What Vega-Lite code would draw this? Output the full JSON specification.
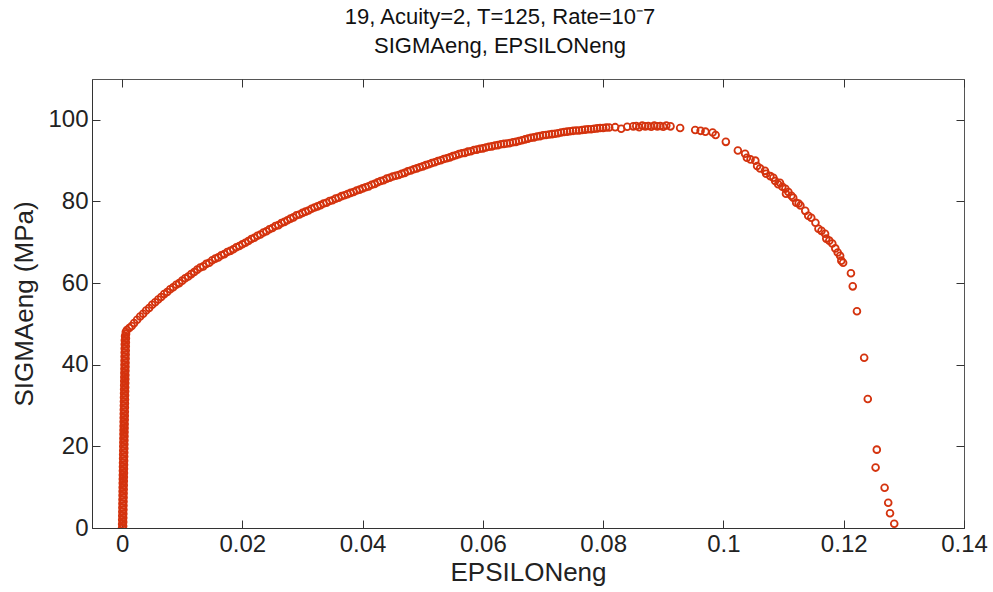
{
  "$schema": "https://vega.github.io/schema/vega-lite/v6.json",
  "autosize": {"type": "none"},
  "width": 872,
  "height": 449,
  "padding": {"left": 92, "top": 79, "right": 29, "bottom": 64},
  "background": "white",
  "title": {
    "text": ["19, Acuity=2, T=125, Rate=10⁻7", "SIGMAeng, EPSILONeng"],
    "anchor": "middle",
    "frame": "group",
    "dx": -28,
    "offset": 21,
    "fontSize": 22,
    "fontWeight": "normal",
    "font": "Liberation Sans",
    "color": "#111111",
    "lineHeight": 29
  },
  "config": {
    "font": "Liberation Sans",
    "view": {"stroke": "#555555", "strokeWidth": 1},
    "axis": {
      "grid": false,
      "domainColor": "#333333",
      "tickColor": "#333333",
      "labelColor": "#222222",
      "titleColor": "#222222",
      "labelFont": "Liberation Sans",
      "titleFont": "Liberation Sans",
      "labelFontSize": 24,
      "titleFontSize": 26,
      "titleFontWeight": "normal",
      "tickSize": -8,
      "labelPadding": 12
    }
  },
  "data": {"values": [
    {"e":0,"s":0},{"e":0.00018,"s":0.5},{"e":0.00001,"s":1},{"e":0.00019,"s":1.5},{"e":0.00002,"s":2},{"e":0.0002,"s":2.5},{"e":0.00003,"s":3},{"e":0.00021,"s":3.5},{"e":0.00004,"s":4},{"e":0.00022,"s":4.5},
    {"e":0.00005,"s":5},{"e":0.00023,"s":5.5},{"e":0.00006,"s":6},{"e":0.00024,"s":6.5},{"e":0.00007,"s":7},{"e":0.00025,"s":7.5},{"e":0.00008,"s":8},{"e":0.00026,"s":8.5},{"e":0.00009,"s":9},{"e":0.00027,"s":9.5},
    {"e":0.0001,"s":10},{"e":0.00028,"s":10.5},{"e":0.00011,"s":11},{"e":0.00029,"s":11.5},{"e":0.00012,"s":12},{"e":0.0003,"s":12.5},{"e":0.00013,"s":13},{"e":0.00031,"s":13.5},{"e":0.00014,"s":14},{"e":0.00032,"s":14.5},
    {"e":0.00015,"s":15},{"e":0.00033,"s":15.5},{"e":0.00016,"s":16},{"e":0.00034,"s":16.5},{"e":0.00017,"s":17},{"e":0.00035,"s":17.5},{"e":0.00018,"s":18},{"e":0.00036,"s":18.5},{"e":0.00019,"s":19},{"e":0.00037,"s":19.5},
    {"e":0.0002,"s":20},{"e":0.00038,"s":20.5},{"e":0.00021,"s":21},{"e":0.00039,"s":21.5},{"e":0.00022,"s":22},{"e":0.0004,"s":22.5},{"e":0.00023,"s":23},{"e":0.00041,"s":23.5},{"e":0.00024,"s":24},{"e":0.00042,"s":24.5},
    {"e":0.00025,"s":25},{"e":0.00043,"s":25.5},{"e":0.00026,"s":26},{"e":0.00044,"s":26.5},{"e":0.00027,"s":27},{"e":0.00045,"s":27.5},{"e":0.00028,"s":28},{"e":0.00046,"s":28.5},{"e":0.00029,"s":29},{"e":0.00047,"s":29.5},
    {"e":0.0003,"s":30},{"e":0.00048,"s":30.5},{"e":0.00031,"s":31},{"e":0.00049,"s":31.5},{"e":0.00032,"s":32},{"e":0.0005,"s":32.5},{"e":0.00033,"s":33},{"e":0.00051,"s":33.5},{"e":0.00034,"s":34},{"e":0.00052,"s":34.5},
    {"e":0.00035,"s":35},{"e":0.00053,"s":35.5},{"e":0.00036,"s":36},{"e":0.00054,"s":36.5},{"e":0.00037,"s":37},{"e":0.00055,"s":37.5},{"e":0.00038,"s":38},{"e":0.00056,"s":38.5},{"e":0.00039,"s":39},{"e":0.00057,"s":39.5},
    {"e":0.0004,"s":40},{"e":0.00058,"s":40.5},{"e":0.00041,"s":41},{"e":0.00059,"s":41.5},{"e":0.00042,"s":42},{"e":0.0006,"s":42.5},{"e":0.00043,"s":43},{"e":0.00061,"s":43.5},{"e":0.00044,"s":44},{"e":0.00062,"s":44.5},
    {"e":0.00045,"s":45},{"e":0.00063,"s":45.5},{"e":0.00046,"s":46},{"e":0.00064,"s":46.5},{"e":0.0005,"s":47},{"e":0.00066,"s":47.5},{"e":0.00062,"s":48},
    {"e":0.0008,"s":48.5},{"e":0.0012,"s":49.0},{"e":0.0016,"s":49.5},{"e":0.002,"s":50.2},{"e":0.0025,"s":51.0},{"e":0.003,"s":51.8},{"e":0.0035,"s":52.5},{"e":0.004,"s":53.3},{"e":0.0045,"s":53.9},{"e":0.005,"s":54.7},
    {"e":0.0055,"s":55.3},{"e":0.006,"s":56.0},{"e":0.0065,"s":56.6},{"e":0.007,"s":57.3},{"e":0.0075,"s":57.8},{"e":0.008,"s":58.5},{"e":0.0085,"s":59.0},{"e":0.009,"s":59.6},{"e":0.0095,"s":60.0},{"e":0.010,"s":60.6},
    {"e":0.0105,"s":61.2},{"e":0.011,"s":61.6},{"e":0.0115,"s":62.2},{"e":0.012,"s":62.7},{"e":0.0125,"s":63.3},{"e":0.013,"s":63.8},{"e":0.0135,"s":64.1},{"e":0.014,"s":64.7},{"e":0.0145,"s":65.0},{"e":0.015,"s":65.6},
    {"e":0.0155,"s":66.0},{"e":0.016,"s":66.3},{"e":0.0165,"s":66.8},{"e":0.017,"s":67.1},{"e":0.0175,"s":67.6},{"e":0.018,"s":67.9},{"e":0.0185,"s":68.3},{"e":0.019,"s":68.8},{"e":0.0195,"s":69.1},{"e":0.020,"s":69.5},
    {"e":0.0205,"s":69.9},{"e":0.021,"s":70.3},{"e":0.0215,"s":70.8},{"e":0.022,"s":71.1},{"e":0.0225,"s":71.6},{"e":0.023,"s":71.9},{"e":0.0235,"s":72.4},{"e":0.024,"s":72.7},{"e":0.0245,"s":73.2},{"e":0.025,"s":73.5},
    {"e":0.0255,"s":74.0},{"e":0.026,"s":74.2},{"e":0.0265,"s":74.7},{"e":0.027,"s":75.0},{"e":0.0275,"s":75.4},{"e":0.028,"s":75.8},{"e":0.0285,"s":76.1},{"e":0.029,"s":76.6},{"e":0.0295,"s":76.8},{"e":0.030,"s":77.2},
    {"e":0.0305,"s":77.5},{"e":0.031,"s":77.8},{"e":0.0315,"s":78.2},{"e":0.032,"s":78.5},{"e":0.0325,"s":78.8},{"e":0.033,"s":79.1},{"e":0.0335,"s":79.5},{"e":0.034,"s":79.7},{"e":0.0345,"s":80.1},{"e":0.035,"s":80.3},
    {"e":0.0355,"s":80.7},{"e":0.036,"s":80.9},{"e":0.0365,"s":81.3},{"e":0.037,"s":81.5},{"e":0.0375,"s":81.8},{"e":0.038,"s":82.1},{"e":0.0385,"s":82.3},{"e":0.039,"s":82.7},{"e":0.0395,"s":82.9},{"e":0.040,"s":83.2},
    {"e":0.0405,"s":83.5},{"e":0.041,"s":83.7},{"e":0.0415,"s":84.1},{"e":0.042,"s":84.3},{"e":0.0425,"s":84.7},{"e":0.043,"s":85.0},{"e":0.0435,"s":85.2},{"e":0.044,"s":85.6},{"e":0.0445,"s":85.8},{"e":0.045,"s":86.1},
    {"e":0.0455,"s":86.3},{"e":0.046,"s":86.5},{"e":0.0465,"s":86.8},{"e":0.047,"s":87.0},{"e":0.0475,"s":87.4},{"e":0.048,"s":87.6},{"e":0.0485,"s":87.9},{"e":0.049,"s":88.1},{"e":0.0495,"s":88.4},{"e":0.050,"s":88.6},
    {"e":0.0505,"s":88.9},{"e":0.051,"s":89.1},{"e":0.0515,"s":89.4},{"e":0.052,"s":89.6},{"e":0.0525,"s":89.9},{"e":0.053,"s":90.1},{"e":0.0535,"s":90.4},{"e":0.054,"s":90.6},{"e":0.0545,"s":90.8},{"e":0.055,"s":91.1},
    {"e":0.0555,"s":91.3},{"e":0.056,"s":91.6},{"e":0.0565,"s":91.8},{"e":0.057,"s":91.9},{"e":0.0575,"s":92.2},{"e":0.058,"s":92.3},{"e":0.0585,"s":92.6},{"e":0.059,"s":92.7},{"e":0.0595,"s":92.9},{"e":0.060,"s":93.0},
    {"e":0.0605,"s":93.2},{"e":0.061,"s":93.4},{"e":0.0615,"s":93.5},{"e":0.062,"s":93.7},{"e":0.0625,"s":93.8},{"e":0.063,"s":94.0},{"e":0.0635,"s":94.1},{"e":0.064,"s":94.2},{"e":0.0645,"s":94.3},{"e":0.065,"s":94.5},
    {"e":0.0655,"s":94.6},{"e":0.066,"s":94.8},{"e":0.0665,"s":95.0},{"e":0.067,"s":95.2},{"e":0.0675,"s":95.4},{"e":0.068,"s":95.6},{"e":0.0685,"s":95.7},{"e":0.069,"s":95.9},{"e":0.0695,"s":96.0},{"e":0.070,"s":96.2},
    {"e":0.0705,"s":96.3},{"e":0.071,"s":96.4},{"e":0.0715,"s":96.5},{"e":0.072,"s":96.6},{"e":0.0725,"s":96.7},{"e":0.073,"s":96.9},{"e":0.0735,"s":97.0},{"e":0.074,"s":97.1},{"e":0.0745,"s":97.2},{"e":0.075,"s":97.3},
    {"e":0.0755,"s":97.4},{"e":0.076,"s":97.4},{"e":0.0765,"s":97.5},{"e":0.077,"s":97.6},{"e":0.0775,"s":97.7},{"e":0.078,"s":97.7},{"e":0.0785,"s":97.8},{"e":0.079,"s":97.9},{"e":0.0795,"s":98.0},{"e":0.080,"s":98.0},
    {"e":0.0805,"s":98.1},{"e":0.081,"s":98.1},{"e":0.082,"s":98.2},{"e":0.083,"s":97.8},{"e":0.084,"s":98.3},{"e":0.085,"s":98.4},{"e":0.0855,"s":98.5},{"e":0.086,"s":98.2},{"e":0.0865,"s":98.6},{"e":0.087,"s":98.4},
    {"e":0.0875,"s":98.5},{"e":0.088,"s":98.3},{"e":0.0885,"s":98.6},{"e":0.089,"s":98.4},{"e":0.0895,"s":98.5},{"e":0.090,"s":98.3},{"e":0.0905,"s":98.6},{"e":0.0912,"s":98.4},
    {"e":0.0928,"s":98.0},{"e":0.0953,"s":97.5},{"e":0.0962,"s":97.3},{"e":0.097,"s":97.1},{"e":0.0982,"s":96.9},{"e":0.0987,"s":96.3},{"e":0.1004,"s":94.6},{"e":0.1024,"s":92.5},{"e":0.1036,"s":91.7},{"e":0.1039,"s":90.7},
    {"e":0.1045,"s":90.3},{"e":0.1053,"s":90.0},{"e":0.1056,"s":88.7},{"e":0.1061,"s":88.1},{"e":0.1069,"s":87.5},{"e":0.1071,"s":86.8},{"e":0.1078,"s":86.2},{"e":0.1083,"s":85.8},{"e":0.1086,"s":85.0},{"e":0.1091,"s":84.2},
    {"e":0.1094,"s":84.6},{"e":0.1098,"s":83.6},{"e":0.1103,"s":83.1},{"e":0.1108,"s":82.3},{"e":0.1104,"s":81.9},{"e":0.1113,"s":81.4},{"e":0.1116,"s":80.9},{"e":0.1121,"s":79.7},{"e":0.1125,"s":79.5},{"e":0.1128,"s":79.0},
    {"e":0.1136,"s":77.7},{"e":0.1141,"s":76.5},{"e":0.1146,"s":76.0},{"e":0.1153,"s":74.8},{"e":0.1158,"s":73.3},{"e":0.1163,"s":72.8},{"e":0.1169,"s":72.1},{"e":0.1171,"s":70.9},{"e":0.1176,"s":70.4},{"e":0.1181,"s":69.7},
    {"e":0.1186,"s":68.5},{"e":0.119,"s":67.5},{"e":0.1194,"s":66.7},{"e":0.1196,"s":65.5},{"e":0.1199,"s":65.0},{"e":0.1212,"s":62.4},{"e":0.1215,"s":59.2},{"e":0.1222,"s":53.1},{"e":0.1234,"s":41.7},{"e":0.124,"s":31.6},
    {"e":0.1255,"s":19.2},{"e":0.1253,"s":14.8},{"e":0.1268,"s":9.85},{"e":0.1274,"s":6.2},{"e":0.1277,"s":3.6},{"e":0.1284,"s":1.05}
  ]},
  "layer": [
    {
      "mark": {"type": "point", "shape": "circle", "filled": false, "size": 46, "strokeWidth": 1.8, "color": "#d4330e", "opacity": 1, "clip": true},
      "encoding": {
        "x": {"field": "e", "type": "quantitative", "title": "EPSILONeng",
              "scale": {"domain": [-0.005, 0.14], "nice": false, "zero": false},
              "axis": {"orient": "bottom", "values": [0, 0.02, 0.04, 0.06, 0.08, 0.1, 0.12, 0.14], "labelExpr": "datum.value == 0 ? '0' : format(datum.value, '.2~f')", "labelFlush": false, "labelOverlap": false, "titlePadding": 3}},
        "y": {"field": "s", "type": "quantitative", "title": "SIGMAeng (MPa)",
              "scale": {"domain": [0, 110], "nice": false},
              "axis": {"orient": "left", "values": [0, 20, 40, 60, 80, 100], "labelFlush": false, "labelOverlap": false, "titleX": -68, "titleY": 224.5, "titleAlign": "center", "titleBaseline": "middle", "titleAngle": -90}}
      }
    },
    {
      "mark": {"type": "point", "opacity": 0},
      "encoding": {
        "x": {"field": "e", "type": "quantitative",
              "scale": {"domain": [-0.005, 0.14], "nice": false, "zero": false},
              "axis": {"orient": "top", "title": null, "labels": false, "domain": false, "values": [0, 0.02, 0.04, 0.06, 0.08, 0.1, 0.12, 0.14]}},
        "y": {"field": "s", "type": "quantitative",
              "scale": {"domain": [0, 110], "nice": false},
              "axis": {"orient": "right", "title": null, "labels": false, "domain": false, "values": [0, 20, 40, 60, 80, 100]}}
      }
    }
  ],
  "resolve": {"axis": {"x": "independent", "y": "independent"}}
}
